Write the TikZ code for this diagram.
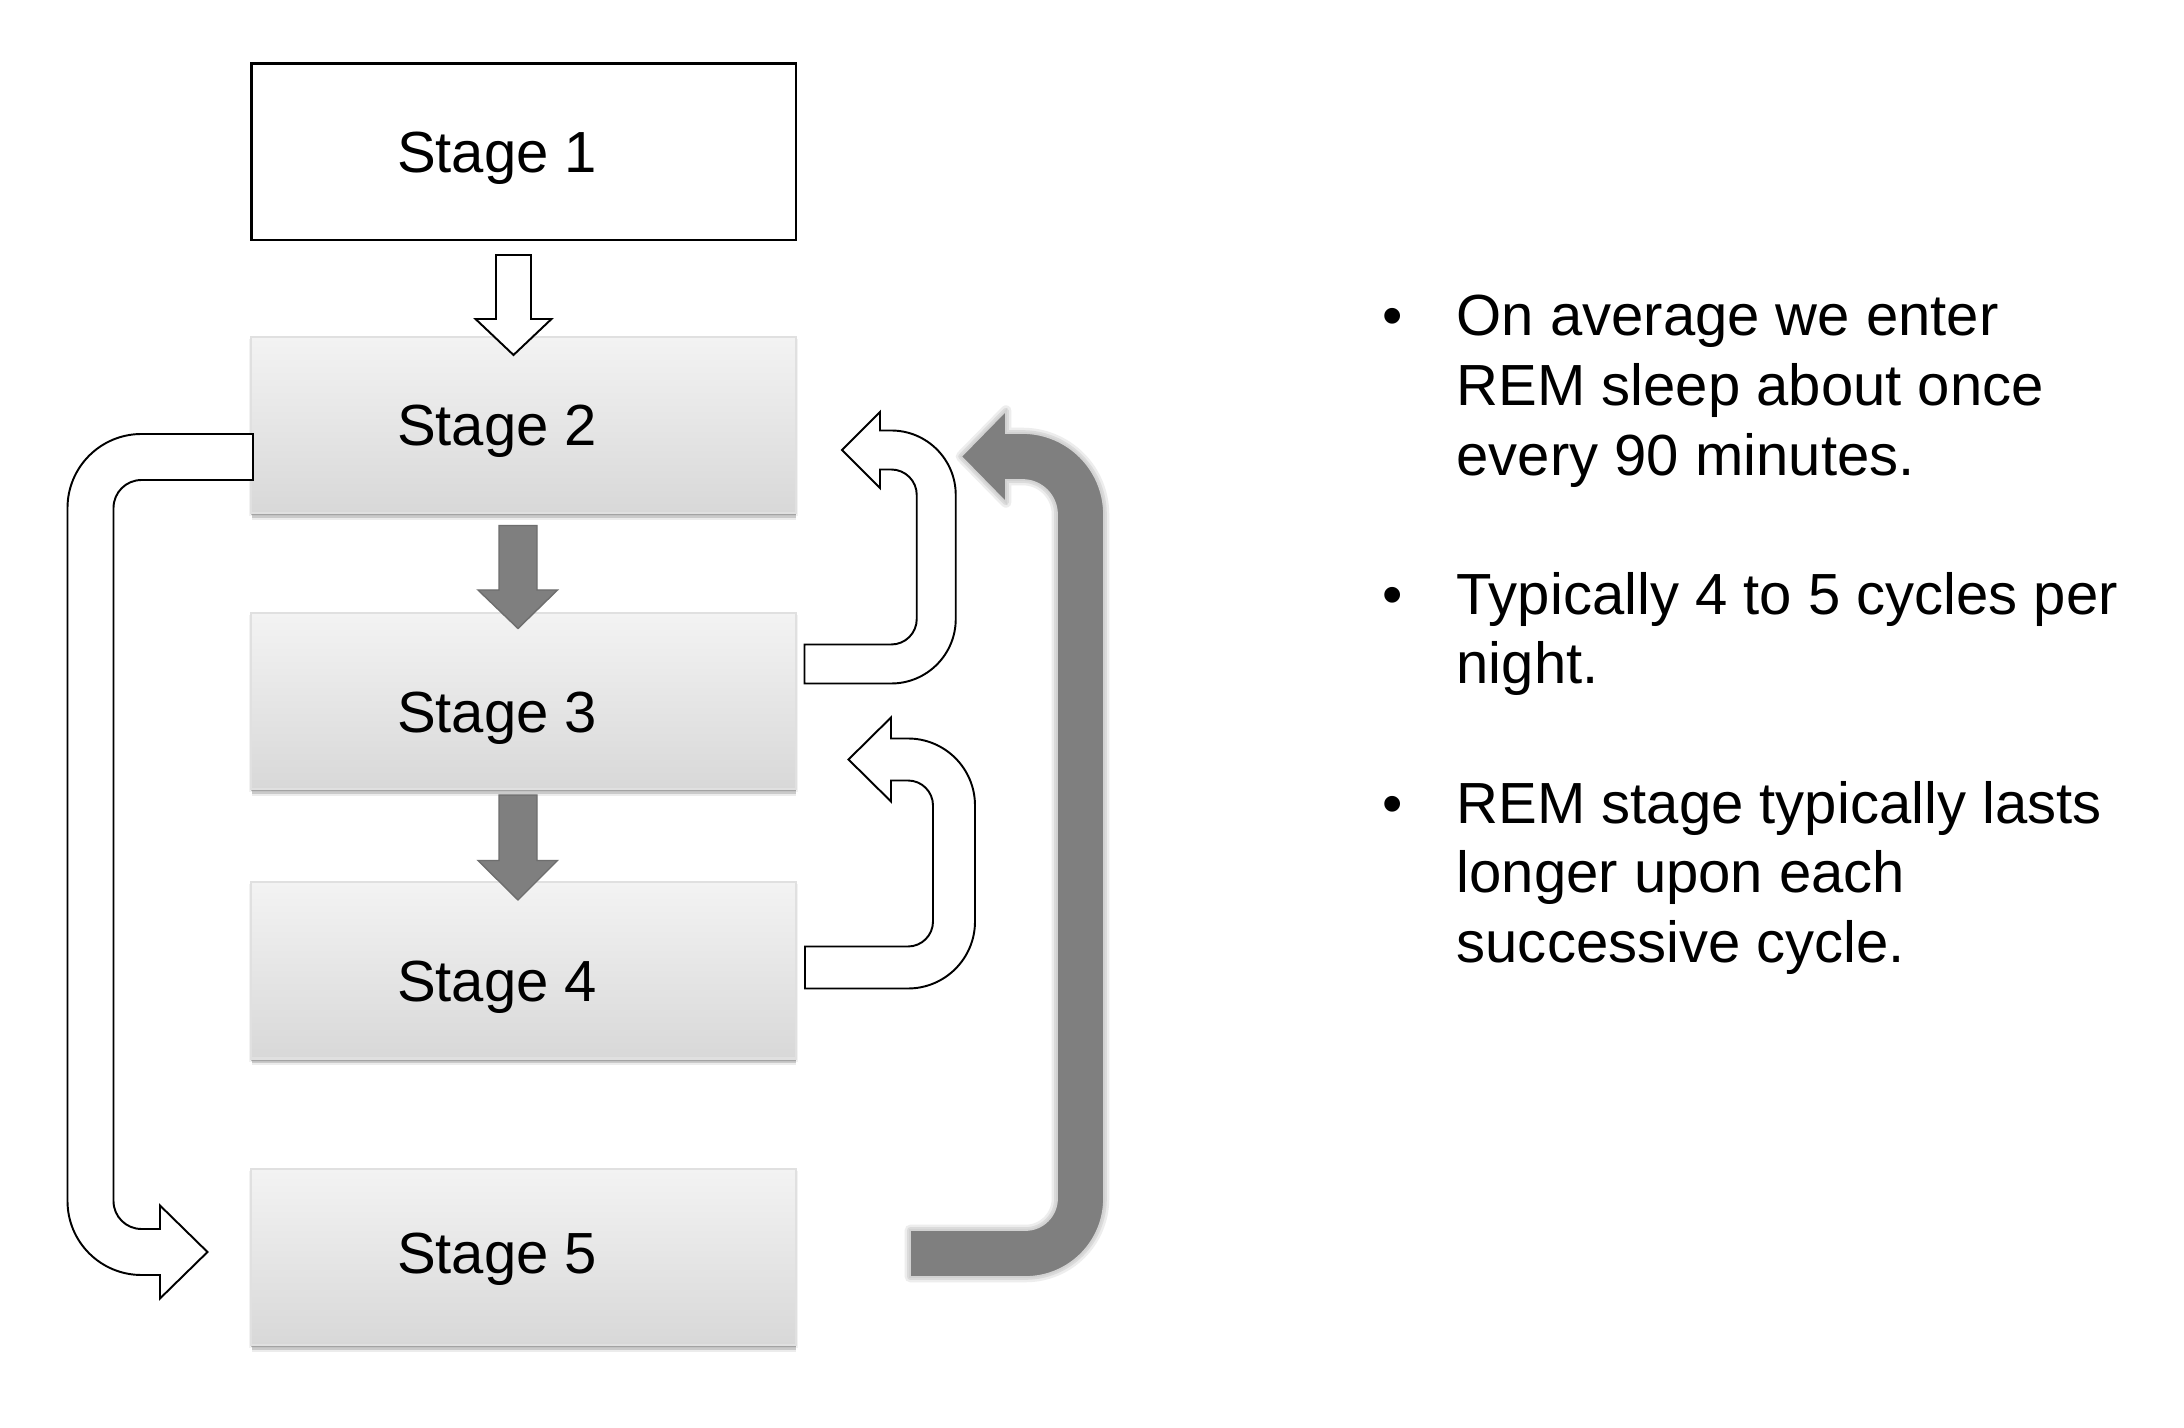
\documentclass[tikz,border=0pt]{standalone}
\usepackage{fontspec}
\setmainfont{Liberation Sans}
\usetikzlibrary{shadows}
\definecolor{boxtop}{HTML}{F3F3F3}
\definecolor{boxbot}{HTML}{D8D8D8}
\definecolor{boxline}{HTML}{E0E0E0}
\definecolor{darkfill}{HTML}{7F7F7F}
\definecolor{darkline}{HTML}{6E6E6E}
\definecolor{bevel}{HTML}{D2D2D2}
\begin{document}
\begin{tikzpicture}[x=0.01cm, y=-0.01cm,
  lbl/.style={font=\fontsize{16.5}{19.8}\selectfont, inner sep=0pt},
  softshadow/.style={
    drop shadow={shadow xshift=0pt, shadow yshift=-0.7pt, opacity=0.45, fill=black!50},
    drop shadow={shadow xshift=0.1pt, shadow yshift=-1.3pt, opacity=0.30, fill=black!50},
    drop shadow={shadow xshift=0.2pt, shadow yshift=-2.0pt, opacity=0.15, fill=black!50},
    drop shadow={shadow xshift=0pt, shadow yshift=-0.8pt, shadow scale=1.008, opacity=0.10, fill=black!50}},
  stagebox/.style={minimum width=5.44cm, minimum height=1.76cm, inner sep=0pt, outer sep=0pt,
    text height=0.416cm, text depth=0pt, font=\fontsize{16.5}{19.8}\selectfont},
  whitebox/.style={stagebox, draw=black, line width=0.7pt, fill=white},
  greybox/.style={stagebox, draw=boxline, line width=0.6pt, top color=boxtop, bottom color=boxbot, softshadow},
  openarrow/.style={draw=black, line width=0.55pt, fill=white, line join=miter},
  darkarrow/.style={fill=darkfill, draw=darkline, line width=0.4pt, line join=miter},
]
\fill[white] (0,0) rectangle (2184,1428);
\useasboundingbox (0,0) rectangle (2184,1428);

% stage boxes
\node[whitebox] (s1) at (523.6,151.7) {Stage 1\hspace*{0.53cm}};
\node[greybox]  (s2) at (523.6,424.9) {Stage 2\hspace*{0.53cm}};
\node[greybox]  (s3) at (523.6,700.9) {\raisebox{-0.105cm}{Stage 3\hspace*{0.53cm}}};
\node[greybox]  (s4) at (523.6,970.4) {\raisebox{-0.105cm}{Stage 4\hspace*{0.53cm}}};
\node[greybox]  (s5) at (523.6,1256.9) {\raisebox{0.04cm}{Stage 5\hspace*{0.53cm}}};

% Stage 1 -> Stage 2 (open block arrow)
\draw[openarrow] (496,255) -- (531,255) -- (531,319) -- (551.5,319) -- (513.5,355)
  -- (475.5,319) -- (496,319) -- cycle;

% Stage 2 -> Stage 3, Stage 3 -> Stage 4 (dark block arrows)
\draw[darkarrow] (499,525.5) -- (537,525.5) -- (537,590) -- (557.5,590) -- (518,628.5)
  -- (478,590) -- (499,590) -- cycle;
\draw[darkarrow] (499,795) -- (537,795) -- (537,860.5) -- (557.5,860.5) -- (518,900)
  -- (478,860.5) -- (499,860.5) -- cycle;

% Stage 2 -> Stage 5 (left U-turn, open)
\draw[openarrow] (253,434) -- (141.5,434)
  .. controls (100.6,434) and (67.5,467.1) .. (67.5,508)
  -- (67.5,1201)
  .. controls (67.5,1241.9) and (100.6,1275) .. (141.5,1275)
  -- (160,1275) -- (160,1298.5) -- (207.5,1252) -- (160,1205.5) -- (160,1229)
  -- (141.5,1229)
  .. controls (126,1229) and (113.5,1216.5) .. (113.5,1201)
  -- (113.5,508)
  .. controls (113.5,492.5) and (126,480) .. (141.5,480)
  -- (253,480) -- cycle;

% Stage 3 -> Stage 2 (right U-turn, open)
\draw[openarrow] (804.5,644.5) -- (891.25,644.5)
  .. controls (905.35,644.5) and (916.75,633.1) .. (916.75,619)
  -- (916.75,495)
  .. controls (916.75,480.9) and (905.35,469.5) .. (891.25,469.5)
  -- (880,469.5) -- (880,488) -- (842,450) -- (880,412) -- (880,430.5)
  -- (891.25,430.5)
  .. controls (926.85,430.5) and (955.75,459.4) .. (955.75,495)
  -- (955.75,619)
  .. controls (955.75,654.6) and (926.85,683.5) .. (891.25,683.5)
  -- (804.5,683.5) -- cycle;

% Stage 4 -> Stage 3 (right U-turn, open)
\draw[openarrow] (805,946.5) -- (908,946.5)
  .. controls (921.8,946.5) and (933,935.3) .. (933,921.5)
  -- (933,805.5)
  .. controls (933,791.7) and (921.8,780.5) .. (908,780.5)
  -- (891,780.5) -- (891,801.5) -- (848.5,759.5) -- (891,717.5) -- (891,738.5)
  -- (908,738.5)
  .. controls (945,738.5) and (975,768.5) .. (975,805.5)
  -- (975,921.5)
  .. controls (975,958.5) and (945,988.5) .. (908,988.5)
  -- (805,988.5) -- cycle;

% Stage 5 -> Stage 2 (big dark U-turn)
\def\bigpath{(910,1230) -- (1025.5,1230)
  .. controls (1042.9,1230) and (1057,1215.9) .. (1057,1198.5)
  -- (1057,514.5)
  .. controls (1057,495.4) and (1041.6,480) .. (1022.5,480)
  -- (1006,480) -- (1006,502.5) -- (961,456.5) -- (1006,410.5) -- (1006,433)
  -- (1022.5,433)
  .. controls (1067.5,433) and (1104,469.5) .. (1104,514.5)
  -- (1104,1198.5)
  .. controls (1104,1241.9) and (1068.9,1277) .. (1025.5,1277)
  -- (910,1277) -- cycle}
\draw[draw=black!7, line width=3pt, line join=round] \bigpath;
\draw[draw=black!14, line width=1.6pt, line join=round] \bigpath;
\draw[fill=darkfill, draw=bevel, line width=0.5pt, line join=miter] \bigpath;

% bullet text
\node[lbl, anchor=base] (b1) at (1392.6,336) {•};
\node[lbl, anchor=base west] (t1a) at (1456,336) {On average we enter};
\node[lbl, anchor=base west] (t1b) at (1456,405.6) {REM sleep about once};
\node[lbl, anchor=base west] (t1c) at (1456,475.2) {every 90 minutes.};
\node[lbl, anchor=base] (b2) at (1392.6,614.4) {•};
\node[lbl, anchor=base west] (t2a) at (1456,614.4) {Typically 4 to 5 cycles per};
\node[lbl, anchor=base west] (t2b) at (1456,684) {night.};
\node[lbl, anchor=base] (b3) at (1392.6,823.2) {•};
\node[lbl, anchor=base west] (t3a) at (1456,823.2) {REM stage typically lasts};
\node[lbl, anchor=base west] (t3b) at (1456,892.8) {longer upon each};
\node[lbl, anchor=base west] (t3c) at (1456,962.4) {successive cycle.};
\end{tikzpicture}
\end{document}
